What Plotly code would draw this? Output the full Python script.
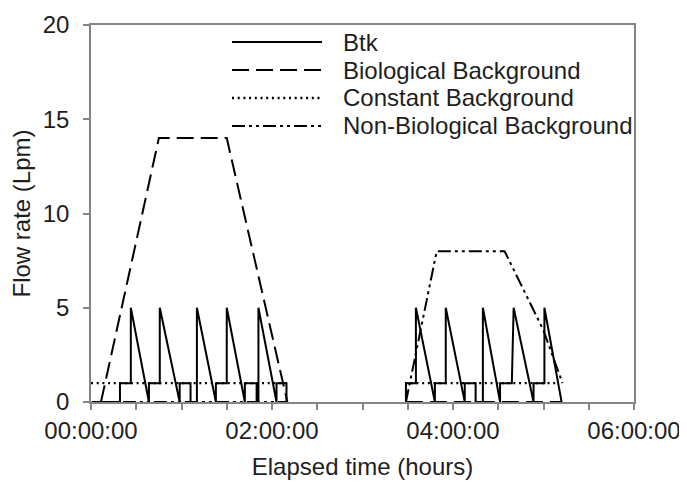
import plotly.graph_objects as go

# ---- data (time in hours, flow in Lpm) ----
btk_t = [0.01, 0.32, 0.32, 0.44, 0.44, 0.64, 0.64, 0.76, 0.76, 0.98, 0.98, 1.10, 1.10, 1.17, 1.17,
         1.38, 1.38, 1.50, 1.50, 1.70, 1.70, 1.83, 1.83, 1.85, 1.85, 2.05, 2.05, 2.16, 2.16, None,
         3.48, 3.48, 3.59, 3.59, 3.80, 3.80, 3.92, 3.92, 4.13, 4.13, 4.25, 4.25, 4.33, 4.33,
         4.52, 4.52, 4.65, 4.67, 4.89, 4.89, 5.01, 5.01, 5.20]
btk_v = [0, 0, 1, 1, 5, 0, 1, 1, 5, 0, 1, 1, 0, 0, 5,
         0, 1, 1, 5, 0, 1, 1, 0, 0, 5, 0, 1, 1, 0, None,
         0, 1, 1, 5, 0, 1, 1, 5, 0, 1, 1, 0, 0, 5,
         0, 1, 1, 5, 0, 1, 1, 5, 0]

bio_t = [0.11, 0.75, 1.50, 2.17, None, 3.48, 5.20]
bio_v = [0, 14, 14, 0, None, 0, 0]

const_t = [0.0, 2.17, None, 3.47, 5.16]
const_v = [1, 1, None, 1, 1]

nonbio_t = [0.01, 2.17, None, 3.48, 3.82, 4.57, 5.00, 5.21]
nonbio_v = [0, 0, None, 0, 8, 8, 3.8, 1.0]

series_names = ["Btk", "Biological Background", "Constant Background", "Non-Biological Background"]

x_tickvals = [0, 2, 4, 6]
x_ticktext = ["00:00:00", "02:00:00", "04:00:00", "06:00:00"]
y_tickvals = [0, 5, 10, 15, 20]

# ---- styles ----
dashes = ["solid", "17px,7px", "2px,3.7px", "13px,4px,3px,4px,3px,4px"]
widths = [2, 2, 2.3, 2]
FONT = "Liberation Sans, Arial, sans-serif"
FS = 24
TXT = "#1e1e1e"
AX = "#858585"

W, H = 687, 485
OFF = 8  # page body margin offset
# target plot area in page pixels: x 91..634, y 25..402
l, r, t, b = 91 - OFF, W - 634 + OFF, 25 - OFF, H - 402 + OFF
pw, ph = W - l - r, H - t - b

fig = go.Figure()
for (tt, v), name, d, w in zip([(btk_t, btk_v), (bio_t, bio_v), (const_t, const_v), (nonbio_t, nonbio_v)],
                               series_names, dashes, widths):
    fig.add_trace(go.Scatter(x=tt, y=v, mode="lines", name=name, showlegend=False,
                             line=dict(color="black", width=w, dash=d)))

# manual legend (long sample lines like the reference)
def px_x(p): return (p - OFF - l) / pw
def px_y(p): return (H - b - (p - OFF)) / ph
rows = [42, 70, 98, 126]
for name, d, w, ry in zip(series_names, dashes, widths, rows):
    fig.add_shape(type="line", xref="paper", yref="paper",
                  x0=px_x(232), x1=px_x(322), y0=px_y(ry), y1=px_y(ry),
                  line=dict(color="black", width=w, dash=d))
    fig.add_annotation(xref="paper", yref="paper", x=px_x(341), y=px_y(ry),
                       text=name, showarrow=False, xanchor="left", yanchor="middle",
                       font=dict(family=FONT, size=FS, color=TXT))

fig.update_layout(
    width=W, height=H,
    margin=dict(l=l, r=r, t=t, b=b, autoexpand=False),
    paper_bgcolor="white", plot_bgcolor="white",
    font=dict(family=FONT, size=FS, color=TXT),
    showlegend=False,
)
fig.update_xaxes(
    range=[0, 6], tickvals=x_tickvals, ticktext=x_ticktext,
    showgrid=False, zeroline=False,
    showline=True, linecolor=AX, linewidth=1.5, mirror=True,
    ticks="outside", ticklen=6, tickcolor=AX, tickwidth=1.5,
    minor=dict(dtick=0.5, ticks="outside", ticklen=6, tickcolor=AX, tickwidth=1.5, showgrid=False),
    ticklabelstandoff=0, layer="below traces",
    title=dict(text="Elapsed time (hours)", standoff=16, font=dict(size=FS)),
    tickfont=dict(size=FS),
)
fig.update_yaxes(
    range=[0, 20], tickvals=y_tickvals,
    showgrid=False, zeroline=False,
    showline=True, linecolor=AX, linewidth=1.5, mirror=True,
    ticks="outside", ticklen=6, tickcolor=AX, tickwidth=1.5,
    ticklabelstandoff=9, layer="below traces",
    title=dict(text="Flow rate (Lpm)", standoff=6, font=dict(size=FS)),
    tickfont=dict(size=FS),
)

fig.write_html("out.html")
